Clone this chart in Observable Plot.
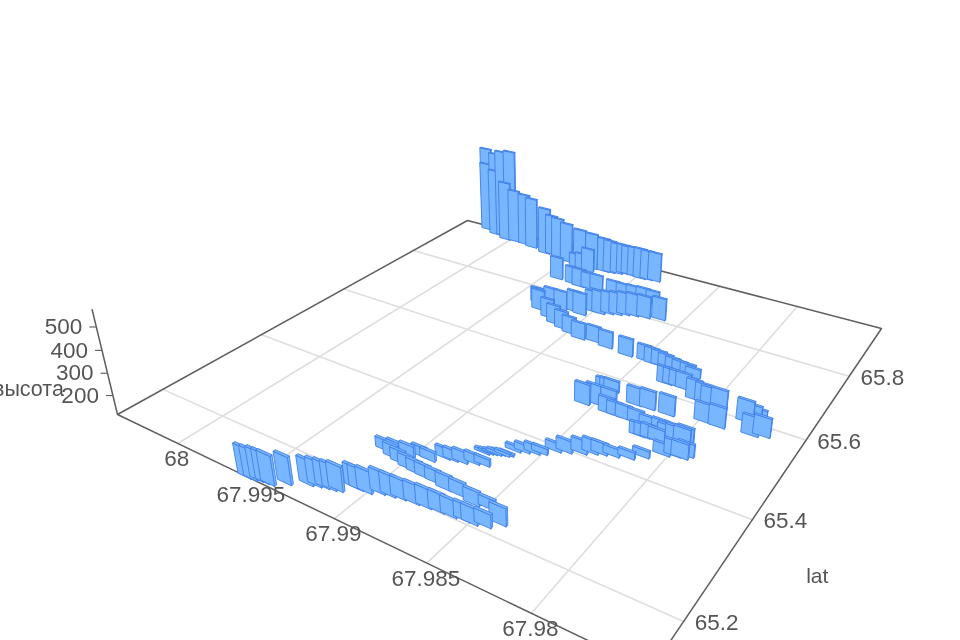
<!DOCTYPE html>
<html><head><meta charset="utf-8">
<style>html,body{margin:0;background:#fff;overflow:hidden}svg{display:block;filter:blur(0.6px)}</style>
<script src="https://cdn.jsdelivr.net/npm/d3@7"></script>
<script src="https://cdn.jsdelivr.net/npm/@observablehq/plot@0.6"></script>
</head><body><div id="chart"></div>
<script>
const lonTicks=[68,67.995,67.99,67.985,67.98];
const lonTickLabels=["68","67.995","67.99","67.985","67.98"];
const latTicks=[65.2,65.4,65.6,65.8];
const heightTicks=[200,300,400,500];
const lonRange=[67.975,68.0045], latRange=[65.12,65.98], heightRange=[113,572];
const lon=[67.99543,67.99509,67.99481,67.99448,67.99418,67.99359,67.99271,67.99233,
67.99196,67.9916,67.99132,67.99087,67.99059,67.99015,67.98962,67.98912,
67.98861,67.98792,67.98731,67.98667,67.98604,67.98541,67.98501,67.98445,
67.98398,67.99152,67.99088,67.99022,67.9898,67.98926,67.99085,67.9903,
67.98973,67.98918,67.98866,67.98805,67.98733,67.98659,67.98568,67.98497,
67.98876,67.98836,67.98791,67.9874,67.98693,67.98746,67.9873,67.98712,
67.98694,67.98679,67.98658,67.98643,67.98633,67.98593,67.98549,67.98518,
67.98474,67.98427,67.98364,67.9832,67.98281,67.98226,67.9816,67.98107,
67.98033,67.97986,67.97952,67.97935,67.98198,67.98174,67.98142,67.98103,
67.9807,67.98027,67.9799,67.97985,67.98561,67.98514,67.98437,67.98535,
67.98513,67.98491,67.98419,67.98373,67.98323,67.98257,67.98196,67.98135,
67.98071,67.98335,67.98263,67.98159,67.9849,67.98443,67.98402,67.9836,
67.98316,67.98276,67.98231,67.98196,67.98295,67.98264,67.98229,67.9819,
67.98103,67.98053,67.98024,67.9796,67.97984,67.97908,67.9781,67.9779,
67.97768,67.97745,67.97695,67.98602,67.98826,67.98737,67.98915,67.9899,
67.99056,67.99127,67.99195,67.99294,67.9926,67.99183,67.99347,67.99305,
67.99055,67.99104,67.99014,67.98967,67.98922,67.98876,67.98836,67.98785,
67.98719,67.98634,67.9899,67.98932,67.98875,67.98818,67.98755,67.9942,
67.99306,67.99248,67.99187,67.99133,67.99389,67.99349,67.99308,68.00258,
68.00161,68.00096,68.00011,68.00245,68.00147,68.0004,67.99969,67.99885,
67.99816,67.9969,67.99642,67.99575,67.99501,67.99405,67.99309,67.99222,
67.99182,67.99137,67.99104,67.99071,67.99025,67.98979,67.98935,67.98885];
const lat=[65.121,65.122,65.125,65.126,65.127,65.14,65.154,65.158,
65.161,65.163,65.166,65.182,65.182,65.183,65.191,65.194,
65.197,65.199,65.201,65.203,65.204,65.207,65.207,65.212,
65.225,65.266,65.267,65.271,65.282,65.281,65.259,65.255,
65.251,65.249,65.248,65.247,65.243,65.243,65.238,65.242,
65.296,65.298,65.301,65.308,65.312,65.334,65.337,65.339,
65.341,65.344,65.345,65.348,65.361,65.366,65.371,65.376,
65.391,65.397,65.406,65.414,65.419,65.424,65.431,65.444,
65.463,65.469,65.47,65.478,65.485,65.486,65.487,65.488,
65.497,65.497,65.5,65.508,65.513,65.522,65.527,65.563,
65.564,65.565,65.511,65.511,65.511,65.512,65.514,65.518,
65.52,65.552,65.553,65.554,65.673,65.671,65.672,65.671,
65.67,65.67,65.672,65.668,65.629,65.631,65.631,65.63,
65.612,65.612,65.614,65.607,65.566,65.565,65.599,65.617,
65.622,65.571,65.578,65.671,65.682,65.676,65.677,65.684,
65.691,65.699,65.712,65.728,65.752,65.749,65.749,65.748,
65.751,65.755,65.772,65.772,65.78,65.785,65.792,65.797,
65.801,65.809,65.835,65.841,65.847,65.853,65.856,65.849,
65.847,65.843,65.845,65.85,65.902,65.904,65.907,65.975,
65.965,65.959,65.952,65.968,65.956,65.946,65.948,65.947,
65.942,65.932,65.935,65.926,65.923,65.925,65.922,65.923,
65.925,65.929,65.935,65.936,65.935,65.933,65.936,65.938];
const height=[242,242,242,241,241,233,220,220,
220,220,220,203,203,207,207,200,
194,193,193,189,184,180,180,170,
188,158,166,166,153,153,166,166,
166,165,165,165,173,169,172,155,
157,157,161,153,144,126,122,122,
126,122,126,122,135,144,149,140,
149,166,171,171,162,148,144,144,
162,179,179,170,167,167,171,165,
180,185,184,176,206,201,192,165,
165,165,182,173,173,168,154,150,
145,192,196,200,186,186,181,176,
171,166,161,156,189,184,184,186,
202,197,187,205,195,204,209,165,
145,198,198,197,188,192,193,195,
200,205,206,212,202,207,187,187,
222,217,217,227,222,222,222,222,
221,221,203,193,187,182,176,227,
200,205,194,188,196,202,234,565,
559,584,602,489,475,433,398,390,
384,360,326,331,319,301,300,290,
283,272,266,261,266,271,265,262];

// Camera: ground quadrilateral + vertical vanishing point (perspective view of the 3D box)
const [x0,y0,x1,y1,x2,y2,x3,y3]=[650,670,117,414,467,220,881,328];
const vanish=[548,2196];
const dx1=x1-x2,dx2=x3-x2,sx=x0-x1+x2-x3,dy1=y1-y2,dy2=y3-y2,sy=y0-y1+y2-y3,den=dx1*dy2-dx2*dy1;
const g=(sx*dy2-dx2*sy)/den,h=(dx1*sy-sx*dy1)/den;
const a=x1-x0+g*x1,b=x3-x0+h*x3,d=y1-y0+g*y1,e=y3-y0+h*y3;
const lam=-0.000121*(g+1);
function proj(lo,la,z=heightRange[0]){
  const u=(lo-lonRange[0])/(lonRange[1]-lonRange[0]), v=(la-latRange[0])/(latRange[1]-latRange[0]);
  const q=lam*(z-heightRange[0]);
  const W=g*u+h*v+1+q;
  return {x:(a*u+b*v+x0+q*vanish[0])/W, y:(d*u+e*v+y0+q*vanish[1])/W, w:W};
}
const halfLon=0.00043, halfLat=0.002;
const order=d3.range(lon.length).sort((i,j)=>proj(lon[j],lat[j]).w-proj(lon[i],lat[i]).w);
const faces=[];
order.forEach(i=>{
  const L0=lon[i]-halfLon,L1=lon[i]+halfLon,A0=lat[i]-halfLat,A1=lat[i]+halfLat,z0=heightRange[0],z1=height[i];
  const add=(k,pts)=>pts.forEach(p=>faces.push({id:i+k,...proj(...p)}));
  add("s",[[L0,A0,z0],[L0,A1,z0],[L0,A1,z1],[L0,A0,z1]]);
  add("f",[[L0,A0,z0],[L1,A0,z0],[L1,A0,z1],[L0,A0,z1]]);
  add("t",[[L0,A0,z1],[L1,A0,z1],[L1,A1,z1],[L0,A1,z1]]);
});
const grid=[];
lonTicks.forEach(t=>{grid.push({s:"o"+t,...proj(t,latRange[0])},{s:"o"+t,...proj(t,latRange[1])})});
latTicks.forEach(t=>{grid.push({s:"a"+t,...proj(lonRange[0],t)},{s:"a"+t,...proj(lonRange[1],t)})});
const [lo0,lo1]=lonRange,[la0,la1]=latRange;
const edge=[proj(lo1,la0),proj(lo0,la0),proj(lo0,la1),proj(lo1,la1),proj(lo1,la0),proj(lo1,la0,heightRange[1])];
const labelFont={fontSize:22.5,fill:"#555",fontFamily:"'Liberation Sans',Arial,sans-serif"};
const plot=Plot.plot({width:960,height:640,margin:0,
  x:{domain:[0,960],range:[0,960],axis:null},y:{domain:[0,640],range:[0,640],axis:null},
  marks:[
    Plot.line(grid,{x:"x",y:"y",z:"s",stroke:"#dedede",strokeWidth:1.6}),
    Plot.line(edge,{x:"x",y:"y",stroke:"#5f5f5f",strokeWidth:1.5}),
    Plot.link(heightTicks,{x1:t=>proj(lo1,la0,t).x-7,y1:t=>proj(lo1,la0,t).y,x2:t=>proj(lo1,la0,t).x,y2:t=>proj(lo1,la0,t).y,stroke:"#666",strokeWidth:1.2}),
    Plot.line(faces,{x:"x",y:"y",z:"id",curve:"linear-closed",fill:"#78b6ff",stroke:"#3f80e8",strokeWidth:0.9,strokeLinejoin:"round"}),
    Plot.text(lonTicks,{x:t=>proj(t,la0).x-1,y:t=>proj(t,la0).y,dy:15.5,text:(t,i)=>lonTickLabels[i],...labelFont}),
    Plot.text(latTicks,{x:t=>proj(lo0,t).x,y:t=>proj(lo0,t).y,dx:33,dy:1.5,text:t=>String(t),...labelFont}),
    Plot.text(heightTicks,{x:t=>proj(lo1,la0,t).x,y:t=>proj(lo1,la0,t).y,dx:-14,textAnchor:"end",text:t=>String(t),...labelFont}),
    Plot.text(["высота"],{x:()=>proj(lo1,la0,200).x,y:()=>proj(lo1,la0,200).y,dx:-49,dy:-6,textAnchor:"end",text:d=>d,...labelFont,fontSize:21.5}),
    Plot.text(["lat"],{x:()=>proj(lo0,65.3).x,y:()=>proj(lo0,65.3).y,dx:97,dy:9,text:d=>d,...labelFont,fontSize:21})
  ]});
document.getElementById("chart").append(plot);
</script></body></html>
